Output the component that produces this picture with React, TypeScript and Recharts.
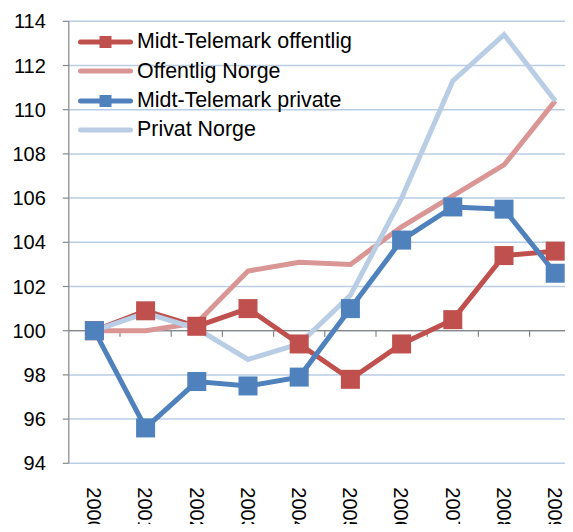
import React from "react";
import { LineChart, Line, XAxis, YAxis, CartesianGrid, Legend, ReferenceLine } from "recharts";

const years = ["2000", "2001", "2002", "2003", "2004", "2005", "2006", "2007", "2008", "2009"];
const mtOffentlig = [100, 100.9, 100.2, 101.0, 99.4, 97.8, 99.4, 100.5, 103.4, 103.6];
const offentligNorge = [100, 100, 100.35, 102.7, 103.1, 103.0, 104.7, 106.1, 107.5, 110.4];
const mtPrivate = [100, 95.6, 97.7, 97.5, 97.9, 101.0, 104.1, 105.6, 105.5, 102.6];
const privatNorge = [100, 100.8, 100.1, 98.7, 99.4, 101.6, 106.0, 111.3, 113.4, 110.4];
const yTicks = [94, 96, 98, 100, 102, 104, 106, 108, 110, 112, 114];

const data = years.map((year, i) => ({
  year,
  mtOffentlig: mtOffentlig[i],
  offentligNorge: offentligNorge[i],
  mtPrivate: mtPrivate[i],
  privatNorge: privatNorge[i],
}));

const FONT = '"Liberation Sans", Arial, sans-serif';
const AXIS = "#868686";

const series = [
  { key: "mtOffentlig", name: "Midt-Telemark offentlig", color: "#C0504D", marker: true },
  { key: "offentligNorge", name: "Offentlig Norge", color: "#D99694", marker: false },
  { key: "mtPrivate", name: "Midt-Telemark private", color: "#4F81BD", marker: true },
  { key: "privatNorge", name: "Privat Norge", color: "#B9CDE5", marker: false },
];

const squareDot = (color: string) => (props: any) => {
  const { cx, cy, index } = props;
  return <rect key={`sq-${index}`} x={cx - 9.5} y={cy - 9.5} width={19} height={19} fill={color} />;
};

const YearTick = ({ x, y, payload }: any) => (
  <text
    transform={`translate(${x},${y}) rotate(90)`}
    dy="0.355em"
    fontSize={20}
    fontFamily={FONT}
    fill="#000"
  >
    {payload.value}
  </text>
);

// the category axis crosses at 100, with tick marks between the years
const BaseLine = (props: any) => {
  const { x1, y1, x2 } = props;
  const step = (x2 - x1) / years.length;
  return (
    <g>
      <line x1={x1} y1={y1} x2={x2} y2={y1} stroke={AXIS} strokeWidth={1.2} />
      {years.map((_, i) => (
        <line key={i} x1={x1 + step * (i + 1)} y1={y1} x2={x1 + step * (i + 1)} y2={y1 + 6} stroke={AXIS} strokeWidth={1.2} />
      ))}
    </g>
  );
};

const LegendBox = () => (
  <div style={{ fontFamily: FONT, fontSize: 21.4, color: "#000" }}>
    {series.map((s) => (
      <div key={s.key} style={{ display: "flex", alignItems: "center", height: 29.3 }}>
        <svg width={59} height={20} style={{ display: "block" }}>
          <line x1={2.5} y1={10} x2={52.5} y2={10} stroke={s.color} strokeWidth={5} strokeLinecap="round" />
          {s.marker && <rect x={21.5} y={4} width={12} height={12} fill={s.color} />}
        </svg>
        <span style={{ whiteSpace: "nowrap", lineHeight: 1 }}>{s.name}</span>
      </div>
    ))}
  </div>
);

const App: React.FC = () => {
  return (
    <div style={{ margin: -8, width: 573, height: 532, overflow: "hidden", position: "relative", background: "#fff" }}>
      <LineChart
        width={600}
        height={532}
        data={data}
        margin={{ top: 21.3, right: 19.2, left: 0, bottom: 8 }}
      >
        <CartesianGrid vertical={false} stroke="#B9CDE5" strokeWidth={1.5} />
        <XAxis
          dataKey="year"
          axisLine={false}
          tickLine={false}
          tickSize={0}
          tickMargin={24}
          height={60.7}
          padding={{ left: 25.6, right: 25.6 }}
          interval={0}
          tick={<YearTick />}
        />
        <YAxis
          domain={[94, 114]}
          ticks={yTicks}
          width={68.8}
          axisLine={{ stroke: AXIS, strokeWidth: 1.2 }}
          tickLine={{ stroke: AXIS, strokeWidth: 1.2 }}
          tickSize={6}
          tickMargin={17}
          tick={{ fill: "#000", fontSize: 20, fontFamily: FONT }}
        />
        <ReferenceLine y={100} shape={<BaseLine />} />
        <Legend
          layout="horizontal"
          verticalAlign="middle"
          align="center"
          content={<LegendBox />}
          wrapperStyle={{ left: 78, top: 27.3, width: "auto", height: "auto" }}
        />
        {series.map((s) => (
          <Line
            key={s.key}
            type="linear"
            dataKey={s.key}
            name={s.name}
            stroke={s.color}
            strokeWidth={5}
            dot={s.marker ? squareDot(s.color) : false}
            activeDot={false}
            isAnimationActive={false}
          />
        ))}
      </LineChart>
    </div>
  );
};

export default App;
